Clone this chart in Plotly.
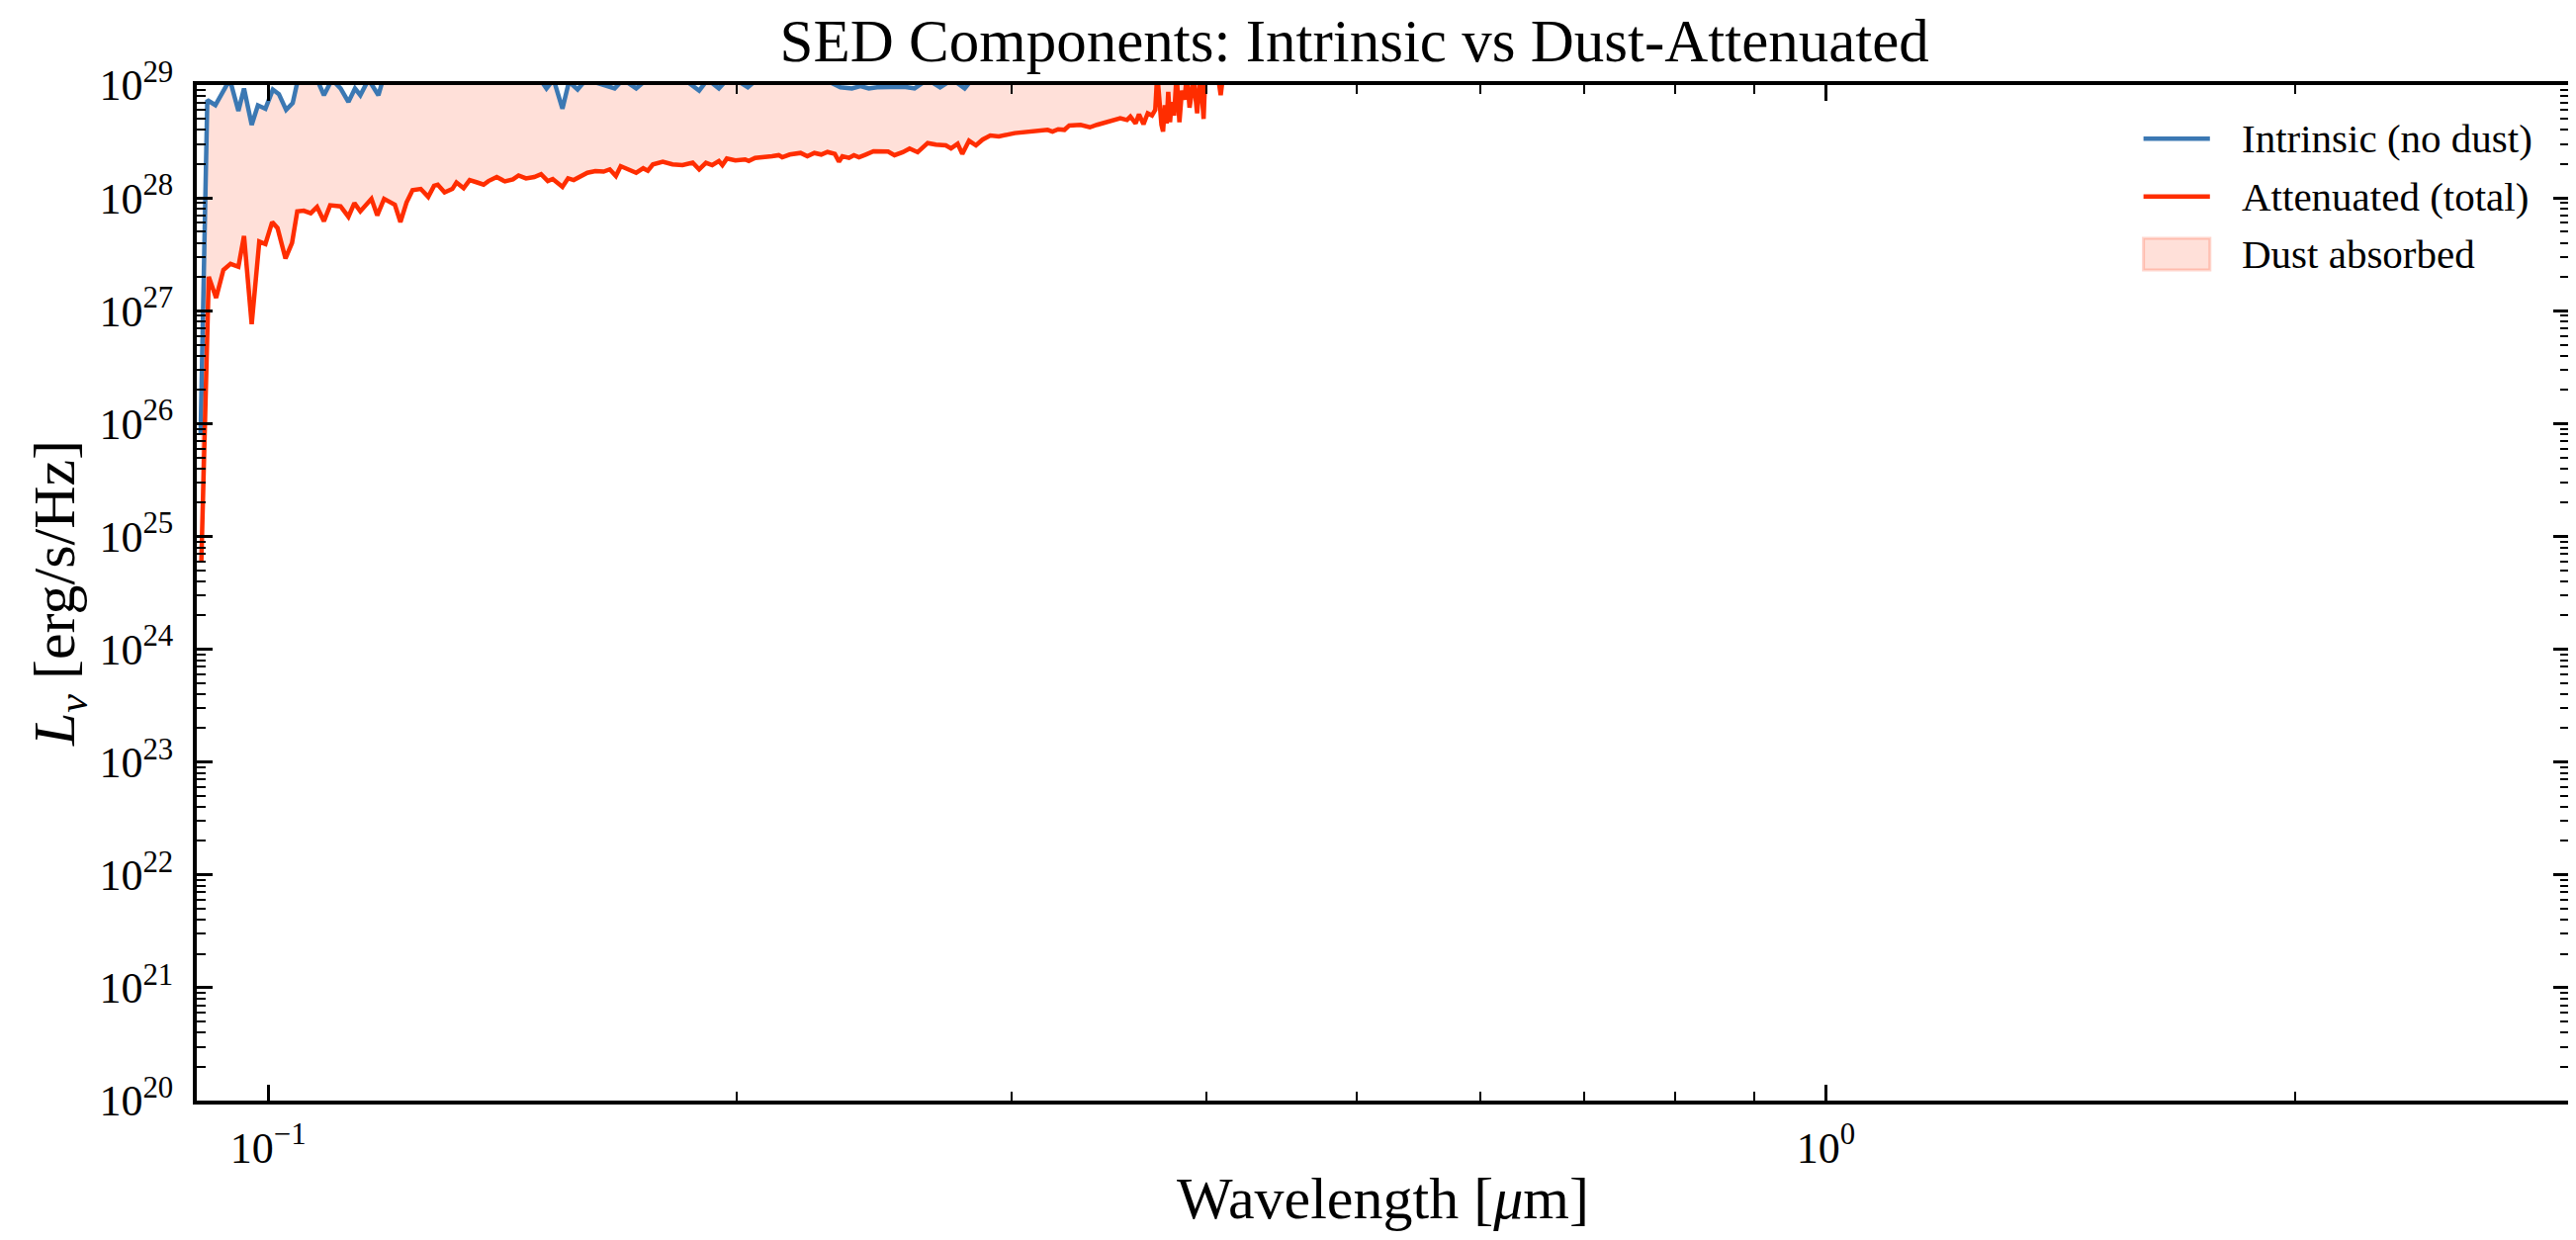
import plotly.graph_objects as go

# wavelength [um] and L_nu [erg/s/Hz]
wl_intrinsic = [0.0905, 0.0914, 0.0925, 0.0936, 0.0945, 0.0957, 0.0965, 0.0976, 0.0985, 0.0996,
                0.1007, 0.1016, 0.1027, 0.1037, 0.1047, 0.1062, 0.1075, 0.1086, 0.1099, 0.1113,
                0.1126, 0.1137, 0.1146, 0.1160, 0.1177, 0.1188, 0.1220, 0.1260, 0.1300, 0.1350,
                0.1400, 0.1450, 0.1495, 0.1509, 0.1525, 0.1545, 0.1560, 0.1580, 0.1600, 0.1669,
                0.1690, 0.1723, 0.1760, 0.1850, 0.1891, 0.1915, 0.1947, 0.1980, 0.2032, 0.2080,
                0.2200, 0.2330, 0.2370, 0.2400, 0.2430, 0.2460, 0.2500, 0.2560, 0.2600, 0.2650,
                0.2700, 0.2750, 0.2800, 0.2850, 0.3000, 0.3500, 0.4000, 0.5000, 0.7000, 1.0000,
                1.5000, 2.0000, 3.0000]
L_intrinsic = [8.0e25, 7.35e28, 6.64e28, 8.69e28, 1.12e29, 5.89e28, 9.33e28, 4.44e28, 6.61e28, 6.17e28,
               9.12e28, 8.32e28, 6.03e28, 6.92e28, 1.26e29, 1.41e29, 1.12e29, 8.13e28, 1.12e29, 9.33e28,
               7.08e28, 9.33e28, 8.13e28, 1.12e29, 8.13e28, 1.26e29, 1.58e29, 1.41e29, 1.58e29, 1.41e29,
               1.58e29, 1.26e29, 1.12e29, 9.33e28, 1.12e29, 6.17e28, 1.07e29, 9.12e28, 1.12e29, 9.33e28,
               1.12e29, 9.33e28, 1.20e29, 1.12e29, 8.91e28, 1.12e29, 9.33e28, 1.20e29, 9.55e28, 1.26e29,
               1.41e29, 9.55e28, 9.33e28, 9.77e28, 9.33e28, 9.55e28, 9.55e28, 9.66e28, 9.33e28, 1.12e29,
               9.55e28, 1.12e29, 9.33e28, 1.26e29, 1.58e29, 2.0e29, 2.5e29, 3.2e29, 4.0e29, 4.0e29,
               3.5e29, 3.2e29, 2.5e29]

wl_atten = [0.0906, 0.0916, 0.0926, 0.0936, 0.0946, 0.0957, 0.0965, 0.0976, 0.0987, 0.0996,
            0.1006, 0.1014, 0.1026, 0.1036, 0.1044, 0.1054, 0.1065, 0.1075, 0.1086, 0.1096,
            0.1113, 0.1126, 0.1136, 0.1146, 0.1165, 0.1175, 0.1187, 0.1206, 0.1216, 0.1227,
            0.1238, 0.1253, 0.1267, 0.1278, 0.1285, 0.1298, 0.1313, 0.1321, 0.1335, 0.1347,
            0.1362, 0.1375, 0.1385, 0.1402, 0.1419, 0.1436, 0.1448, 0.1464, 0.1482, 0.1497,
            0.1512, 0.1523, 0.1545, 0.1558, 0.1571, 0.1603, 0.1622, 0.1642, 0.1657, 0.1672,
            0.1684, 0.1705, 0.1723, 0.1741, 0.1753, 0.1766, 0.1792, 0.1818, 0.1845, 0.1873,
            0.1891, 0.1910, 0.1928, 0.1947, 0.1957, 0.1970, 0.1995, 0.2024, 0.2035, 0.2054,
            0.2084, 0.2106, 0.2127, 0.2138, 0.2162, 0.2197, 0.2219, 0.2242, 0.2265, 0.2286,
            0.2311, 0.2325, 0.2337, 0.2360, 0.2377, 0.2395, 0.2419, 0.2447, 0.2500, 0.2524,
            0.2555, 0.2581, 0.2612, 0.2651, 0.2683, 0.2723, 0.2744, 0.2771, 0.2790, 0.2818,
            0.2847, 0.2875, 0.2908, 0.2945, 0.3015, 0.3089, 0.3165, 0.3188, 0.3215, 0.3245,
            0.3268, 0.3323, 0.3369, 0.3405, 0.3472, 0.3524, 0.3559, 0.3577, 0.3605, 0.3623,
            0.3647, 0.3670, 0.3693, 0.3711, 0.3722, 0.3736, 0.3745, 0.3754, 0.3764, 0.3774,
            0.3783, 0.3793, 0.3802, 0.3816, 0.3830, 0.3846, 0.3860, 0.3875, 0.3889, 0.3904,
            0.3928, 0.3948, 0.3967, 0.3986, 0.3996, 0.4030, 0.4060, 0.4088, 0.4120, 0.4500,
            0.5500, 0.7000, 1.0000, 1.5000, 2.0000, 3.0000]
L_atten = [6.0e24, 2.0e27, 1.3e27, 2.3e27, 2.6e27, 2.45e27, 4.6e27, 7.6e26, 4.1e27, 3.9e27,
           6.1e27, 5.4e27, 2.9e27, 4.0e27, 7.6e27, 7.7e27, 7.3e27, 8.3e27, 6.2e27, 8.6e27,
           8.4e27, 6.8e27, 9.0e27, 7.6e27, 9.8e27, 7.0e27, 9.8e27, 8.7e27, 6.1e27, 9.1e27,
           1.17e28, 1.20e28, 1.02e28, 1.28e28, 1.31e28, 1.12e28, 1.20e28, 1.37e28, 1.22e28, 1.44e28,
           1.37e28, 1.31e28, 1.41e28, 1.53e28, 1.40e28, 1.46e28, 1.58e28, 1.49e28, 1.53e28, 1.62e28,
           1.41e28, 1.47e28, 1.25e28, 1.49e28, 1.44e28, 1.67e28, 1.73e28, 1.71e28, 1.79e28, 1.56e28,
           1.91e28, 1.79e28, 1.67e28, 1.83e28, 1.74e28, 1.98e28, 2.09e28, 1.98e28, 1.95e28, 2.05e28,
           1.79e28, 2.05e28, 1.95e28, 2.12e28, 1.95e28, 2.23e28, 2.15e28, 2.19e28, 2.12e28, 2.26e28,
           2.29e28, 2.34e28, 2.39e28, 2.29e28, 2.42e28, 2.50e28, 2.34e28, 2.50e28, 2.42e28, 2.55e28,
           2.45e28, 2.09e28, 2.34e28, 2.26e28, 2.39e28, 2.29e28, 2.42e28, 2.59e28, 2.57e28, 2.39e28,
           2.54e28, 2.74e28, 2.54e28, 3.06e28, 2.96e28, 2.92e28, 2.74e28, 3.02e28, 2.45e28, 3.21e28,
           2.92e28, 3.28e28, 3.57e28, 3.51e28, 3.75e28, 3.87e28, 4.01e28, 3.87e28, 4.06e28, 4.01e28,
           4.38e28, 4.44e28, 4.22e28, 4.44e28, 4.74e28, 5.07e28, 4.90e28, 5.25e28, 4.57e28, 5.50e28,
           4.49e28, 5.62e28, 5.37e28, 6.03e28, 1.26e29, 5.37e28, 4.44e28, 3.87e28, 6.61e28, 4.57e28,
           8.71e28, 4.68e28, 7.08e28, 5.37e28, 1.26e29, 4.68e28, 8.91e28, 7.41e28, 1.26e29, 6.31e28,
           1.12e29, 5.62e28, 1.26e29, 5.01e28, 1.26e29, 2.0e29, 1.6e29, 8.13e28, 2.0e29, 2.2e29,
           2.6e29, 3.0e29, 3.2e29, 3.0e29, 2.6e29, 2.0e29]

x_tickvals = [0.1, 1]
x_ticktext = ["10<sup>\u22121</sup>", "10<sup>0</sup>"]
x_minor = [0.09, 0.2, 0.3, 0.4, 0.5, 0.6, 0.7, 0.8, 0.9, 2, 3]
y_exponents = list(range(20, 30))
y_tickvals = [10.0 ** e for e in y_exponents]
y_ticktext = ["10<sup>%d</sup>" % e for e in y_exponents]
y_minor = [m * 10.0 ** e for e in range(20, 29) for m in range(2, 10)]

blue = "#3b78b3"
red = "#ff2d00"
pink = "rgba(255,45,0,0.15)"
font = "Liberation Serif"

fig = go.Figure()
fig.add_trace(go.Scatter(x=wl_intrinsic, y=L_intrinsic, mode="lines",
                         line=dict(color=blue, width=4.5), showlegend=False))
fig.add_trace(go.Scatter(x=wl_atten, y=L_atten, mode="lines", fill="tonexty",
                         fillcolor=pink, line=dict(width=0), showlegend=False))
fig.add_trace(go.Scatter(x=wl_atten, y=L_atten, mode="lines",
                         line=dict(color=red, width=4.5), showlegend=False))

axis_common = dict(
    type="log", showgrid=False, zeroline=False, showline=True, linecolor="black",
    linewidth=4, mirror="allticks", ticks="inside", ticklen=16, tickwidth=3,
    tickcolor="black", tickfont=dict(family=font, size=44, color="black"),
)
fig.update_xaxes(
    range=[-1.0458, 0.4771], tickmode="array", tickvals=x_tickvals, ticktext=x_ticktext,
    ticklabelstandoff=6,
    minor=dict(tickmode="array", tickvals=x_minor, ticks="inside", ticklen=9,
               tickwidth=2, tickcolor="black", showgrid=False),
    title=dict(text="Wavelength [<i>\u03bc</i>m]", font=dict(family=font, size=60, color="black"),
               standoff=6),
    **axis_common,
)
fig.update_yaxes(
    range=[20, 29], tickmode="array", tickvals=y_tickvals, ticktext=y_ticktext,
    ticklabelstandoff=11,
    minor=dict(tickmode="array", tickvals=y_minor, ticks="inside", ticklen=9,
               tickwidth=2, tickcolor="black", showgrid=False),
    title=dict(text="<i>L</i><sub><i>\u03bd</i></sub> [erg/s/Hz]",
               font=dict(family=font, size=60, color="black"), standoff=6),
    **axis_common,
)

# legend drawn by hand (upper right, no frame)
lx0, lx1, ltx = 0.8206, 0.8486, 0.8611
rows = [0.9471, 0.8903, 0.8335]
fig.add_shape(type="line", xref="paper", yref="paper", x0=lx0, x1=lx1, y0=rows[0], y1=rows[0],
              line=dict(color=blue, width=4.5))
fig.add_shape(type="line", xref="paper", yref="paper", x0=lx0, x1=lx1, y0=rows[1], y1=rows[1],
              line=dict(color=red, width=4.5))
fig.add_shape(type="rect", xref="paper", yref="paper", x0=lx0, x1=lx1, y0=0.8179, y1=0.8491,
              fillcolor=pink, line=dict(color="rgba(255,45,0,0.2)", width=3))
for txt, yy in zip(["Intrinsic (no dust)", "Attenuated (total)", "Dust absorbed"], rows):
    fig.add_annotation(x=ltx, y=yy, xref="paper", yref="paper", text=txt, showarrow=False,
                       xanchor="left", yanchor="middle",
                       font=dict(family=font, size=41, color="black"))

fig.update_layout(
    width=2605, height=1254,
    margin=dict(l=191, r=15, t=78, b=149),
    paper_bgcolor="white", plot_bgcolor="white",
    title=dict(text="SED Components: Intrinsic vs Dust-Attenuated", x=0.488, xref="paper",
               xanchor="center", y=0.974, yref="container", yanchor="middle",
               font=dict(family=font, size=61, color="black")),
    showlegend=False,
)

fig.write_html("out.html")
